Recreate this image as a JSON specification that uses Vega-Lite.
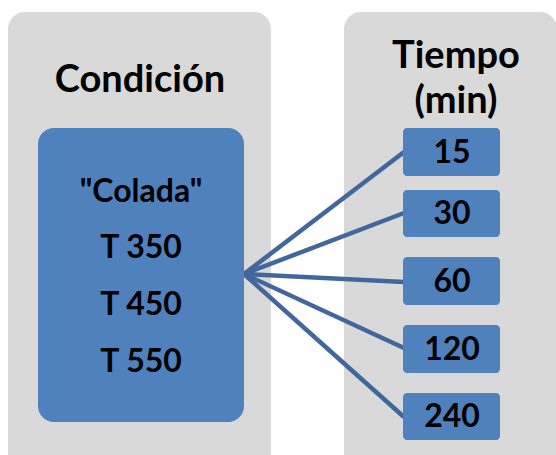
{
  "$schema": "https://vega.github.io/schema/vega-lite/v6.json",
  "width": 556,
  "height": 455,
  "padding": 0,
  "autosize": {"type": "none"},
  "background": "white",
  "config": {"view": {"stroke": null}, "axis": {"disable": true}},
  "datasets": {
    "shapes": [
      {"role": "panel", "x": 8, "x2": 271, "y": 12, "y2": 490},
      {"role": "panel", "x": 344, "x2": 557, "y": 12, "y2": 490},
      {"role": "bigbox", "x": 38, "x2": 244, "y": 128, "y2": 422},
      {"role": "smallbox", "x": 403, "x2": 500, "y": 128, "y2": 176},
      {"role": "smallbox", "x": 403, "x2": 500, "y": 190, "y2": 237},
      {"role": "smallbox", "x": 403, "x2": 500, "y": 257, "y2": 305},
      {"role": "smallbox", "x": 403, "x2": 500, "y": 325, "y2": 373},
      {"role": "smallbox", "x": 403, "x2": 500, "y": 393, "y2": 440}
    ],
    "links": [
      {"tiempo": "15", "x": 244, "y": 274, "x2": 404, "y2": 152},
      {"tiempo": "30", "x": 244, "y": 274, "x2": 404, "y2": 213},
      {"tiempo": "60", "x": 244, "y": 274, "x2": 404, "y2": 282},
      {"tiempo": "120", "x": 244, "y": 274, "x2": 404, "y2": 348},
      {"tiempo": "240", "x": 244, "y": 274, "x2": 404, "y2": 417}
    ],
    "labels": [
      {"role": "header", "text": "Condición", "x": 140, "y": 92},
      {"role": "header", "text": "Tiempo", "x": 456, "y": 68},
      {"role": "header", "text": "(min)", "x": 456, "y": 113},
      {"role": "item", "text": "\"Colada\"", "x": 141, "y": 202},
      {"role": "item", "text": "T 350", "x": 141, "y": 258},
      {"role": "item", "text": "T 450", "x": 141, "y": 315},
      {"role": "item", "text": "T 550", "x": 141, "y": 372},
      {"role": "item", "text": "15", "x": 452, "y": 163},
      {"role": "item", "text": "30", "x": 452, "y": 224},
      {"role": "item", "text": "60", "x": 452, "y": 292},
      {"role": "item", "text": "120", "x": 452, "y": 360},
      {"role": "item", "text": "240", "x": 452, "y": 427}
    ]
  },
  "layer": [
    {
      "data": {"name": "shapes"},
      "transform": [{"filter": "datum.role === 'panel'"}],
      "mark": {"type": "rect", "color": "#D9D9D9", "cornerRadius": 17, "clip": true},
      "encoding": {
        "x": {"field": "x", "type": "quantitative", "scale": {"domain": [0, 556], "nice": false, "zero": false}},
        "x2": {"field": "x2"},
        "y": {"field": "y", "type": "quantitative", "scale": {"domain": [455, 0], "nice": false, "zero": false}},
        "y2": {"field": "y2"}
      }
    },
    {
      "data": {"name": "links"},
      "mark": {"type": "rule", "color": "#41679C", "strokeWidth": 4.5, "strokeCap": "butt"},
      "encoding": {
        "x": {"field": "x", "type": "quantitative"},
        "x2": {"field": "x2"},
        "y": {"field": "y", "type": "quantitative"},
        "y2": {"field": "y2"}
      }
    },
    {
      "data": {"name": "shapes"},
      "transform": [{"filter": "datum.role === 'bigbox'"}],
      "mark": {"type": "rect", "color": "#4F81BD", "cornerRadius": 16},
      "encoding": {
        "x": {"field": "x", "type": "quantitative"},
        "x2": {"field": "x2"},
        "y": {"field": "y", "type": "quantitative"},
        "y2": {"field": "y2"}
      }
    },
    {
      "data": {"name": "shapes"},
      "transform": [{"filter": "datum.role === 'smallbox'"}],
      "mark": {"type": "rect", "color": "#4F81BD", "cornerRadius": 4},
      "encoding": {
        "x": {"field": "x", "type": "quantitative"},
        "x2": {"field": "x2"},
        "y": {"field": "y", "type": "quantitative"},
        "y2": {"field": "y2"}
      }
    },
    {
      "data": {"name": "labels"},
      "transform": [{"filter": "datum.role === 'header'"}],
      "mark": {"type": "text", "font": "Lato", "fontWeight": "bold", "fontSize": 38, "align": "center", "baseline": "alphabetic", "color": "#000000"},
      "encoding": {
        "x": {"field": "x", "type": "quantitative"},
        "y": {"field": "y", "type": "quantitative"},
        "text": {"field": "text"}
      }
    },
    {
      "data": {"name": "labels"},
      "transform": [{"filter": "datum.role === 'item'"}],
      "mark": {"type": "text", "font": "Lato", "fontWeight": "bold", "fontSize": 32, "align": "center", "baseline": "alphabetic", "color": "#000000"},
      "encoding": {
        "x": {"field": "x", "type": "quantitative"},
        "y": {"field": "y", "type": "quantitative"},
        "text": {"field": "text"}
      }
    }
  ]
}
